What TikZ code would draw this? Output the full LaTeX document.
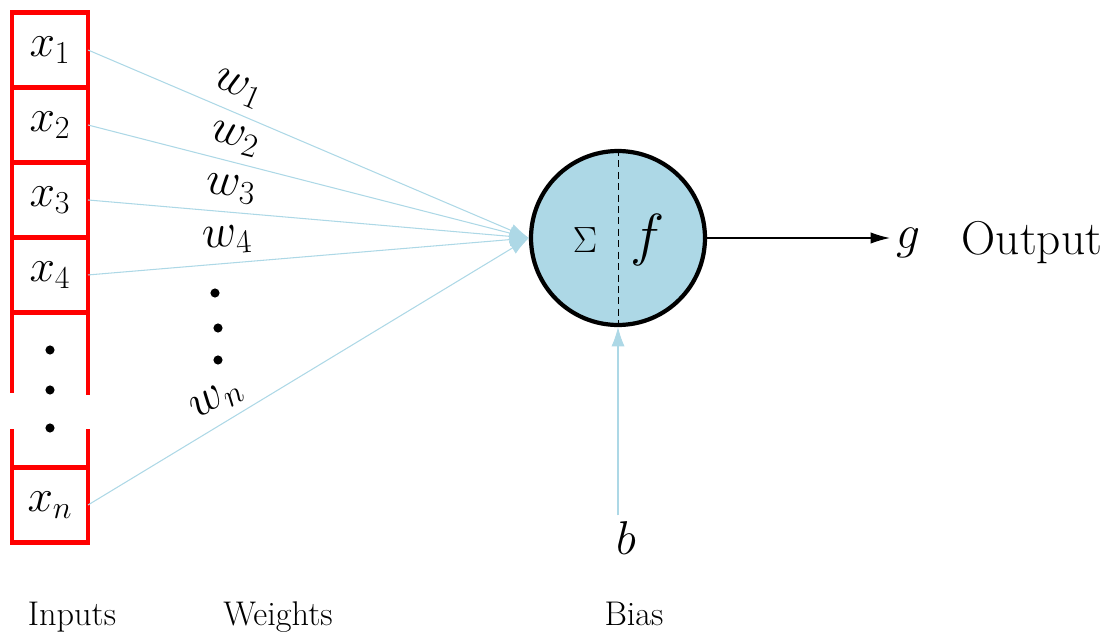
\RequirePackage{fix-cm}
\documentclass[tikz,border=0pt]{standalone}
\usepackage{amsmath}
\usetikzlibrary{arrows.meta,positioning,calc}
\definecolor{lightblue}{RGB}{173,216,230}

\begin{document}
\begin{tikzpicture}[
    x=0.02cm, y=-0.02cm,
    inbox/.style={draw=red, line width=2.8pt, minimum width=1.52cm, minimum height=1.5cm, outer sep=0pt, font=\fontsize{26}{31}\selectfont},
    neuron/.style={circle, draw, line width=2.4pt, fill=lightblue, minimum size=3.48cm},
    wire/.style={-{Latex[length=11pt,width=7.5pt]}, lightblue, line width=0.6pt},
    bigtext/.style={font=\fontsize{27}{32}\selectfont},
    caption/.style={font=\fontsize{19.5}{23}\selectfont, anchor=base}
]
\useasboundingbox (0,0) rectangle (1108,632);
% input column
\node[inbox] (x1) at (50,50) {$x_1$};
\node[inbox, below=0pt of x1] (x2) {$x_2$};
\node[inbox, below=0pt of x2] (x3) {$x_3$};
\node[inbox, below=0pt of x3] (x4) {$x_4$};
\node[inbox] (xn) at (50,505) {$x_n$};
\draw[red, line width=2.8pt] (x4.south west) -- ++(0,81);
\draw[red, line width=2.8pt] (x4.south east) -- ++(0,83);
\draw[red, line width=2.8pt] (xn.north west) -- ++(0,-39);
\draw[red, line width=2.8pt] (xn.north east) -- ++(0,-39);
\foreach \y in {350,390,428}
    \fill (50,\y) circle (2.6pt);
% neuron
\node[neuron] (sum) at (618,238) {};
\draw[dash pattern=on 4pt off 2.5pt] (sum.north) -- (sum.south);
\node[font=\huge] (sigma) at (585,240) {$\Sigma$};
\node[font=\fontsize{33}{40}\selectfont] (act) at (648,240) {$f$};
% weighted inputs
\foreach \i/\w in {x1/w_1, x2/w_2, x3/w_3, x4/w_4, xn/w_n}
    \draw[wire] (\i.east) -- node[pos=0.32, above=3pt, sloped, inner sep=2pt, bigtext, text=black] {$\w$} (sum.west);
\foreach \x/\y in {215/293, 218/328, 218/360}
    \fill (\x,\y) circle (2.6pt);
% output and bias
\node[bigtext] (g) at (908,243) {$g$};
\node[bigtext] (out) at (1032,243) {Output};
\draw[-{Latex[length=11pt,width=6.5pt]}, line width=0.6pt] (sum.east) -- (sum.east -| g.west);
\node[bigtext] (b) at (626,538) {$b$};
\draw[wire] (b.north -| sum.south) -- (sum.south);
% captions
\node[caption] (inlab) at (72,625) {Inputs};
\node[caption] (wlab) at (278,625) {Weights};
\node[caption] (blab) at (634,625) {Bias};
\end{tikzpicture}
\end{document}
